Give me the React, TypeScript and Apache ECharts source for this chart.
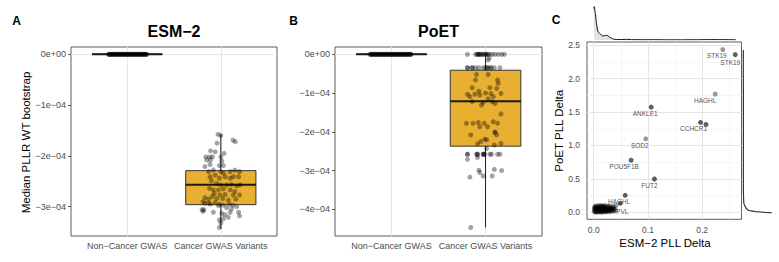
import React, { useEffect, useRef } from 'react';
import * as echarts from 'echarts';

// ---------- shared ----------
const categories = ['Non−Cancer GWAS', 'Cancer GWAS Variants'];
const catPositions = [1, 2];

// ---------- Panel A : ESM-2 ----------
const esmTickValues = [0, -1e-4, -2e-4, -3e-4];
const esmTickLabels = ['0e+00', '−1e−04', '−2e−04', '−3e−04'];
const esmMinorValues = [-0.5e-4, -1.5e-4, -2.5e-4, -3.5e-4];
// [min, q1, median, q3, max]
const esmBoxNonCancer = [0, 0, 0, 0, 0];
const esmBoxCancer = [-3.43e-4, -2.96e-4, -2.57e-4, -2.29e-4, -1.575e-4];
// jittered points: [offset from category centre, value]
const esmNonCancerPoints = [
  [-0.2, 0], [-0.19, 0], [-0.18, 0], [-0.17, 0], [-0.16, 0], [-0.15, 0], [-0.14, 0], [-0.13, 0], [-0.12, 0], [-0.11, 0],
  [-0.1, 0], [-0.09, 0], [-0.08, 0], [-0.07, 0], [-0.06, 0], [-0.05, 0], [-0.04, 0], [-0.03, 0], [-0.02, 0], [-0.01, 0], [0, 0],
  [0.01, 0], [0.02, 0], [0.03, 0], [0.04, 0], [0.05, 0], [0.06, 0], [0.07, 0], [0.08, 0], [0.09, 0],
  [0.1, 0], [0.11, 0], [0.12, 0], [0.13, 0], [0.14, 0], [0.15, 0], [0.16, 0], [0.17, 0], [0.18, 0], [0.19, 0], [0.2, 0], [0.21, 0],
  [-0.195, 0], [-0.175, 0], [-0.155, 0], [-0.135, 0], [-0.115, 0], [-0.095, 0], [-0.075, 0], [-0.055, 0], [-0.035, 0], [-0.015, 0],
  [0.005, 0], [0.025, 0], [0.045, 0], [0.065, 0], [0.085, 0], [0.105, 0], [0.125, 0], [0.145, 0], [0.165, 0], [0.185, 0], [0.205, 0],
];
const esmCancerPoints = [
  [-0.03, -1.575e-4], [0.0, -1.6e-4], [0.13, -1.69e-4], [0.155, -1.72e-4], [-0.04, -1.75e-4],
  [-0.06, -1.92e-4], [-0.11, -1.9e-4], [-0.16, -2.02e-4], [-0.12, -2.02e-4], [-0.09, -2.02e-4],
  [0.0, -2.02e-4], [0.035, -1.95e-4], [-0.15, -2.08e-4], [-0.11, -2.08e-4], [0.01, -2.1e-4],
  [-0.17, -2.21e-4], [-0.115, -2.17e-4], [-0.015, -2.19e-4], [0.027, -2.19e-4], [-0.13, -2.31e-4],
  [-0.08, -2.28e-4], [0.0, -2.31e-4], [0.027, -2.34e-4], [0.1, -2.31e-4], [0.15, -2.28e-4],
  [0.2, -2.31e-4], [-0.115, -2.41e-4], [-0.06, -2.38e-4], [-0.015, -2.44e-4], [0.045, -2.41e-4],
  [0.1, -2.44e-4], [0.134, -2.41e-4], [0.19, -2.41e-4], [-0.1, -2.49e-4], [-0.044, -2.54e-4],
  [0.0, -2.57e-4], [0.063, -2.57e-4], [0.115, -2.56e-4], [0.17, -2.59e-4], [0.205, -2.57e-4],
  [-0.12, -2.64e-4], [-0.08, -2.67e-4], [-0.026, -2.67e-4], [0.027, -2.65e-4], [0.1, -2.67e-4],
  [0.15, -2.7e-4], [-0.07, -2.74e-4], [-0.01, -2.77e-4], [0.045, -2.76e-4], [0.134, -2.77e-4],
  [0.2, -2.77e-4], [-0.17, -2.82e-4], [-0.13, -2.85e-4], [-0.09, -2.8e-4], [-0.044, -2.84e-4],
  [0.02, -2.84e-4], [0.08, -2.87e-4], [0.16, -2.85e-4], [-0.19, -2.9e-4], [-0.13, -2.93e-4],
  [-0.06, -2.92e-4], [-0.01, -2.95e-4], [0.027, -2.97e-4], [0.09, -2.95e-4], [0.127, -2.97e-4],
  [-0.17, -2.93e-4], [-0.11, -2.95e-4], [-0.026, -2.98e-4], [0.063, -3.02e-4], [0.115, -3.04e-4],
  [0.17, -3.0e-4], [-0.19, -3.09e-4], [-0.08, -3.11e-4], [0.01, -3.13e-4], [0.1, -3.11e-4],
  [0.045, -3.16e-4], [0.08, -3.21e-4], [0.19, -3.11e-4], [0.2, -3.18e-4], [-0.015, -3.26e-4],
  [0.027, -3.24e-4], [0.0, -3.32e-4], [-0.015, -3.41e-4], [-0.2, -3.06e-4], [-0.18, -3.06e-4],
];

// ---------- Panel B : PoET ----------
const poetTickValues = [0, -1e-4, -2e-4, -3e-4, -4e-4];
const poetTickLabels = ['0e+00', '−1e−04', '−2e−04', '−3e−04', '−4e−04'];
const poetMinorValues = [-0.5e-4, -1.5e-4, -2.5e-4, -3.5e-4, -4.5e-4];
const poetBoxNonCancer = [0, 0, 0, 0, 0];
const poetBoxCancer = [-4.47e-4, -2.37e-4, -1.21e-4, -0.41e-4, 0];
const poetNonCancerPoints = [
  [-0.23, 0], [-0.22, 0], [-0.21, 0], [-0.2, 0], [-0.19, 0], [-0.18, 0], [-0.17, 0], [-0.16, 0], [-0.15, 0], [-0.14, 0], [-0.13, 0], [-0.12, 0],
  [-0.11, 0], [-0.1, 0], [-0.09, 0], [-0.08, 0], [-0.07, 0], [-0.06, 0], [-0.05, 0], [-0.04, 0], [-0.03, 0], [-0.02, 0], [-0.01, 0], [0, 0], [0.01, 0],
  [0.02, 0], [0.03, 0], [0.04, 0], [0.05, 0], [0.06, 0], [0.07, 0], [0.08, 0], [0.09, 0], [0.1, 0], [0.11, 0], [0.12, 0], [0.13, 0],
  [0.14, 0], [0.15, 0], [0.16, 0], [0.17, 0], [0.18, 0], [0.19, 0], [0.2, 0], [0.21, 0],
  [-0.215, 0], [-0.185, 0], [-0.155, 0], [-0.125, 0], [-0.095, 0], [-0.065, 0], [-0.035, 0], [-0.005, 0],
  [0.025, 0], [0.055, 0], [0.085, 0], [0.115, 0], [0.145, 0], [0.175, 0], [0.205, 0],
];
const poetCancerPoints = [
  [-0.192, 0], [-0.107, 0], [-0.085, 0], [-0.071, 0], [-0.05, 0], [-0.025, 0], [0, 0], [0.021, 0],
  [0.043, 0], [0.071, 0], [0.1, 0], [0.135, 0], [0.171, 0], [0.2, 0],
  [-0.085, 0], [-0.071, 0], [-0.05, 0], [-0.025, 0], [0, 0], [0.021, 0],
  [0.028, -0.147e-4], [0.039, -0.09e-4],
  [-0.192, -0.345e-4], [-0.142, -0.345e-4], [-0.107, -0.345e-4], [-0.071, -0.345e-4], [-0.025, -0.345e-4],
  [0, -0.345e-4], [0.021, -0.345e-4], [0.057, -0.345e-4], [0.093, -0.345e-4], [0.153, -0.345e-4],
  [-0.192, -0.345e-4], [-0.142, -0.345e-4], [0.021, -0.345e-4], [0.057, -0.345e-4],
  [-0.096, -0.52e-4], [0.028, -0.52e-4], [-0.107, -0.66e-4], [0.128, -0.66e-4], [0.135, -0.75e-4],
  [-0.142, -0.86e-4], [0.046, -0.86e-4], [0.118, -0.88e-4], [-0.071, -0.95e-4], [-0.192, -1.03e-4],
  [-0.167, -1.09e-4], [-0.114, -1.03e-4], [-0.061, -1.05e-4], [0, -1.0e-4], [0.057, -1.01e-4],
  [0.082, -1.09e-4], [0.164, -1.01e-4], [-0.142, -1.22e-4], [-0.025, -1.24e-4], [0.028, -1.15e-4],
  [0.071, -1.22e-4], [0.1, -1.27e-4], [-0.043, -1.31e-4], [0.164, -1.54e-4], [-0.203, -1.78e-4],
  [-0.132, -1.78e-4], [-0.078, -1.76e-4], [-0.014, -1.78e-4], [0.082, -1.74e-4], [0.128, -1.78e-4],
  [-0.061, -1.87e-4], [0.021, -1.87e-4], [0.1, -2.0e-4], [-0.157, -2.08e-4], [0.118, -2.08e-4],
  [-0.007, -2.19e-4], [0.1, -2.02e-4], [-0.085, -2.31e-4], [-0.05, -2.25e-4], [0.011, -2.21e-4],
  [0.093, -2.34e-4], [0.164, -2.3e-4], [0.011, -2.43e-4],
  [-0.192, -2.58e-4], [-0.096, -2.58e-4], [-0.085, -2.58e-4], [-0.025, -2.58e-4], [-0.014, -2.58e-4],
  [0.046, -2.58e-4], [0.064, -2.58e-4], [0.128, -2.58e-4], [0.153, -2.58e-4],
  [-0.192, -2.58e-4], [-0.085, -2.58e-4], [-0.025, -2.58e-4], [-0.014, -2.58e-4],
  [-0.192, -2.71e-4], [-0.085, -2.66e-4], [-0.071, -2.99e-4], [0.093, -2.97e-4], [0.171, -3.0e-4],
  [-0.061, -3.05e-4], [-0.167, -3.17e-4], [-0.025, -3.14e-4], [0.071, -3.14e-4], [-0.157, -4.47e-4],
];

// ---------- Panel C : scatter with marginal densities ----------
const cXTicks = [0, 0.1, 0.2];
const cXTickLabels = ['0.0', '0.1', '0.2'];
const cXMinor = [0.05, 0.15, 0.25];
const cYTicks = [0, 0.5, 1.0, 1.5, 2.0, 2.5];
const cYTickLabels = ['0.0', '0.5', '1.0', '1.5', '2.0', '2.5'];
const cYMinor = [0.25, 0.75, 1.25, 1.75, 2.25];

const namedEsm = [0.238, 0.261, 0.224, 0.106, 0.197, 0.207, 0.096, 0.069, 0.112, 0.058, 0.049, 0.041];
const namedPoet = [2.436, 2.36, 1.77, 1.574, 1.345, 1.315, 1.1, 0.78, 0.498, 0.254, 0.134, 0.1];
const namedGene = ['STK19', 'STK19', 'HAGHL', 'ANKLE1', 'CCHCR1', '', 'SOD2', 'POU5F1B', 'FUT2', 'HAGHL', 'PVL', ''];
const namedCount = [1, 2, 1, 2, 2, 2, 1, 2, 2, 2, 2, 1];
// label placement relative to the point centre (layout only)
const namedLabelOffset = [[-6, 5.5], [-5, 7.5], [-10, 6], [-6, 6], [-7, 6.5], [0, 0], [-6, 7], [-7, 6], [-5, 6.5], [-6, 6.5], [2, 8.5], [0, 0]];

const clusterPoints = [
  [0.002, 0.005], [0.003, 0.012], [0.004, 0.02], [0.005, 0.0], [0.006, 0.03], [0.007, 0.008],
  [0.008, 0.045], [0.009, 0.015], [0.01, 0.06], [0.011, 0.025], [0.012, 0.003], [0.013, 0.04],
  [0.014, 0.07], [0.015, 0.018], [0.016, 0.05], [0.017, 0.01], [0.018, 0.085], [0.019, 0.035],
  [0.02, 0.06], [0.021, 0.02], [0.022, 0.075], [0.023, 0.005], [0.024, 0.045], [0.025, 0.09],
  [0.026, 0.03], [0.027, 0.065], [0.028, 0.015], [0.029, 0.05], [0.03, 0.08], [0.031, 0.04],
  [0.032, 0.02], [0.033, 0.06], [0.034, 0.03], [0.035, 0.07], [0.036, 0.045], [0.037, 0.015],
  [0.002, 0.04], [0.003, 0.07], [0.004, 0.09], [0.005, 0.055], [0.006, 0.08], [0.007, 0.065],
  [0.008, 0.1], [0.009, 0.075], [0.01, 0.035], [0.012, 0.09], [0.013, 0.1], [0.015, 0.085],
  [0.017, 0.095], [0.019, 0.07], [0.021, 0.1], [0.023, 0.055], [0.001, 0.025], [0.001, 0.06],
  [0.002, 0.085], [0.011, 0.008], [0.014, 0.03], [0.016, 0.002], [0.018, 0.025], [0.02, 0.04],
  [0.022, 0.012], [0.024, 0.02], [0.026, 0.055], [0.028, 0.04], [0.03, 0.01], [0.033, 0.045],
  [0.038, 0.05], [0.04, 0.03], [0.036, 0.085], [0.029, 0.095],
];

// marginal densities (relative height, peak = 100)
const esmDensity = [
  [0, 95], [0.001, 100], [0.003, 80], [0.005, 50], [0.007, 30], [0.009, 22], [0.011, 20],
  [0.013, 17], [0.015, 13], [0.017, 12], [0.02, 13], [0.023, 14], [0.026, 13], [0.029, 9],
  [0.033, 5], [0.037, 2.5], [0.042, 1.5], [0.05, 1.5], [0.06, 2], [0.07, 1], [0.09, 0.8],
  [0.11, 1], [0.13, 0.6], [0.16, 0.6], [0.19, 0.8], [0.21, 1.2], [0.23, 1.2], [0.25, 0.9], [0.262, 0.6],
];
const poetDensity = [
  [-0.006, 100], [0.0, 75], [0.01, 45], [0.02, 28], [0.035, 17], [0.06, 11], [0.085, 8],
  [0.11, 5], [0.135, 3], [0.2, 2], [0.3, 1.5], [0.5, 1.2], [0.8, 1.2], [1.1, 1.5], [1.35, 1.5],
  [1.6, 1.3], [1.8, 1.4], [2.1, 1], [2.36, 1.2], [2.43, 1],
];

// ---------- styling ----------
const FONT = "'Liberation Sans', Arial, Helvetica, sans-serif";
const BOX_FILL = '#E8AF30';
const GRID_MAJOR = '#e6e6e6';
const GRID_MINOR = '#f0f0f0';
const POINT_SIZE = 5;

function tickFormatter(ticks: number[], labels: string[]) {
  return (v: number) => {
    const i = ticks.findIndex((t) => Math.abs(t - v) < 1e-12);
    return i >= 0 ? labels[i] : '';
  };
}

function valueAxis(gridIndex: number, min: number, max: number, ticks: number[], labels: string[], margin: number, fontSize: number) {
  return {
    type: 'value', gridIndex, min, max,
    axisLine: { show: false },
    splitLine: { show: false },
    axisTick: { show: true, customValues: ticks, length: 3, lineStyle: { color: '#333', width: 0.8 } },
    axisLabel: { customValues: ticks, margin, color: '#4d4d4d', fontSize, fontFamily: FONT, formatter: tickFormatter(ticks, labels) },
  };
}

function gridLines(axisIdx: number, xMajor: number[], xMinor: number[], yMajor: number[], yMinor: number[]) {
  const mk = (key: string, v: number, major: boolean) => ({
    [key]: v,
    lineStyle: { color: major ? GRID_MAJOR : GRID_MINOR, width: major ? 1 : 0.7, type: 'solid' },
  });
  return {
    type: 'line', xAxisIndex: axisIdx, yAxisIndex: axisIdx, data: [], silent: true, z: 1,
    markLine: {
      z: 1, silent: true, symbol: ['none', 'none'], label: { show: false }, animation: false,
      emphasis: { disabled: true },
      data: [
        ...yMinor.map((v) => mk('yAxis', v, false)),
        ...xMinor.map((v) => mk('xAxis', v, false)),
        ...yMajor.map((v) => mk('yAxis', v, true)),
        ...xMajor.map((v) => mk('xAxis', v, true)),
      ],
    },
  };
}

function boxSeries(axisIdx: number, boxes: number[][]) {
  return {
    type: 'custom', xAxisIndex: axisIdx, yAxisIndex: axisIdx, z: 2, silent: true,
    data: boxes.map((b, i) => [catPositions[i], ...b]),
    renderItem: (_p: any, api: any) => {
      const x = api.value(0);
      const lo = api.value(1), q1 = api.value(2), med = api.value(3), q3 = api.value(4), hi = api.value(5);
      const tl = api.coord([x - 0.375, q3]);
      const br = api.coord([x + 0.375, q1]);
      const pHi = api.coord([x, hi]);
      const pQ3 = api.coord([x, q3]);
      const pQ1 = api.coord([x, q1]);
      const pLo = api.coord([x, lo]);
      const pMed = api.coord([x, med]);
      const stroke = '#1a1a1a';
      return {
        type: 'group',
        children: [
          { type: 'line', shape: { x1: pHi[0], y1: pHi[1], x2: pQ3[0], y2: pQ3[1] }, style: { stroke, lineWidth: 1 } },
          { type: 'line', shape: { x1: pQ1[0], y1: pQ1[1], x2: pLo[0], y2: pLo[1] }, style: { stroke, lineWidth: 1 } },
          { type: 'rect', shape: { x: tl[0], y: tl[1], width: br[0] - tl[0], height: br[1] - tl[1] }, style: { fill: BOX_FILL, stroke: '#333', lineWidth: 1 } },
          { type: 'line', shape: { x1: tl[0], y1: pMed[1], x2: br[0], y2: pMed[1] }, style: { stroke, lineWidth: 2 } },
        ],
      };
    },
  };
}

function jitterSeries(axisIdx: number, catIdx: number, pts: number[][]) {
  return {
    type: 'scatter', xAxisIndex: axisIdx, yAxisIndex: axisIdx, z: 3, silent: true, clip: false,
    symbolSize: POINT_SIZE,
    itemStyle: { color: 'rgba(0,0,0,0.45)' },
    data: pts.map(([o, v]) => [catPositions[catIdx] + o, v]),
  };
}

function catAxis(gridIndex: number) {
  return {
    type: 'value', gridIndex, min: 0.4, max: 2.6,
    axisLine: { show: false }, splitLine: { show: false },
    axisTick: { show: true, customValues: catPositions, length: 3, lineStyle: { color: '#333', width: 0.8 } },
    axisLabel: {
      customValues: catPositions, margin: 5, color: '#4d4d4d', fontSize: 9, fontFamily: FONT,
      formatter: (v: number) => categories[Math.round(v) - 1] ?? '',
    },
  };
}

const C_XMIN = -0.0124, C_XMAX = 0.2725, C_YMIN = -0.105, C_YMAX = 2.549;

function buildOption() {
  const gridBase = { show: true, borderColor: '#333', borderWidth: 0.8, backgroundColor: '#fff', containLabel: false };
  const namedData = namedEsm.map((x, i) => ({
    value: [x, namedPoet[i]],
    itemStyle: { color: namedCount[i] > 1 ? 'rgba(0,0,0,0.78)' : 'rgba(0,0,0,0.5)' },
    label: {
      show: namedGene[i] !== '', formatter: namedGene[i],
      position: [POINT_SIZE / 2 + namedLabelOffset[i][0], POINT_SIZE / 2 + namedLabelOffset[i][1]],
      align: 'center', verticalAlign: 'middle',
      color: '#1a1a1a', fontSize: 6.5, fontFamily: FONT,
    },
  }));
  return {
    animation: false,
    backgroundColor: '#fff',
    grid: [
      { ...gridBase, left: 71, top: 47, width: 206, height: 189 },
      { ...gridBase, left: 335, top: 47, width: 207, height: 189 },
      { ...gridBase, left: 587, top: 42, width: 154.5, height: 177.3 },
      { show: false, left: 587, top: 5, width: 154.5, height: 35 },
      { show: false, left: 743, top: 42, width: 32, height: 177.3 },
    ],
    xAxis: [
      catAxis(0),
      catAxis(1),
      { ...valueAxis(2, C_XMIN, C_XMAX, cXTicks, cXTickLabels, 6, 8.5) },
      { type: 'value', gridIndex: 3, min: C_XMIN, max: C_XMAX, show: false },
      { type: 'value', gridIndex: 4, min: 0, max: 111.5, show: false },
    ],
    yAxis: [
      valueAxis(0, -3.577e-4, 0.144e-4, esmTickValues, esmTickLabels, 5, 9),
      valueAxis(1, -4.69e-4, 0.19e-4, poetTickValues, poetTickLabels, 5, 9),
      valueAxis(2, C_YMIN, C_YMAX, cYTicks, cYTickLabels, 7, 8.5),
      { type: 'value', gridIndex: 3, min: 0, max: 105, show: false },
      { type: 'value', gridIndex: 4, min: C_YMIN, max: C_YMAX, show: false },
    ],
    series: [
      gridLines(0, catPositions, [], esmTickValues, esmMinorValues),
      gridLines(1, catPositions, [], poetTickValues, poetMinorValues),
      gridLines(2, cXTicks, cXMinor, cYTicks, cYMinor),
      boxSeries(0, [esmBoxNonCancer, esmBoxCancer]),
      boxSeries(1, [poetBoxNonCancer, poetBoxCancer]),
      jitterSeries(0, 0, esmNonCancerPoints),
      jitterSeries(0, 1, esmCancerPoints),
      jitterSeries(1, 0, poetNonCancerPoints),
      jitterSeries(1, 1, poetCancerPoints),
      {
        type: 'scatter', xAxisIndex: 2, yAxisIndex: 2, z: 3, silent: true, clip: false, symbolSize: POINT_SIZE,
        itemStyle: { color: 'rgba(0,0,0,0.5)' },
        data: clusterPoints,
      },
      {
        type: 'scatter', xAxisIndex: 2, yAxisIndex: 2, z: 4, silent: true, clip: false, symbolSize: POINT_SIZE,
        data: namedData,
        labelLayout: { hideOverlap: false },
      },
      {
        type: 'line', xAxisIndex: 3, yAxisIndex: 3, silent: true, showSymbol: false, symbol: 'none',
        data: esmDensity,
        lineStyle: { color: '#1a1a1a', width: 1 },
        areaStyle: { color: '#e3e3e3', opacity: 1 },
      },
      {
        type: 'line', xAxisIndex: 4, yAxisIndex: 4, silent: true, showSymbol: false, symbol: 'none',
        data: poetDensity.map(([y, d]) => [d, y]),
        lineStyle: { color: '#333', width: 1.2 },
      },
    ],
    graphic: [
      { type: 'text', x: 16.5, y: 20.5, style: { text: 'A', font: `bold 12px ${FONT}`, fill: '#000', textAlign: 'center', textVerticalAlign: 'middle' } },
      { type: 'text', x: 293.5, y: 20.5, style: { text: 'B', font: `bold 12px ${FONT}`, fill: '#000', textAlign: 'center', textVerticalAlign: 'middle' } },
      { type: 'text', x: 556, y: 20, style: { text: 'C', font: `bold 12px ${FONT}`, fill: '#000', textAlign: 'center', textVerticalAlign: 'middle' } },
      { type: 'text', x: 174, y: 31, style: { text: 'ESM−2', font: `bold 16px ${FONT}`, fill: '#000', textAlign: 'center', textVerticalAlign: 'middle' } },
      { type: 'text', x: 438.5, y: 31, style: { text: 'PoET', font: `bold 16px ${FONT}`, fill: '#000', textAlign: 'center', textVerticalAlign: 'middle' } },
      { type: 'text', x: 26, y: 142.5, rotation: Math.PI / 2, style: { text: 'Median PLLR WT bootstrap', font: `11.5px ${FONT}`, fill: '#000', textAlign: 'center', textVerticalAlign: 'middle' } },
      { type: 'text', x: 665, y: 243.3, style: { text: 'ESM−2 PLL Delta', font: `11.5px ${FONT}`, fill: '#000', textAlign: 'center', textVerticalAlign: 'middle' } },
      { type: 'text', x: 559.3, y: 130.8, rotation: Math.PI / 2, style: { text: 'PoET PLL Delta', font: `11.5px ${FONT}`, fill: '#000', textAlign: 'center', textVerticalAlign: 'middle' } },
    ],
  };
}

export default function App() {
  const ref = useRef<HTMLDivElement>(null);
  useEffect(() => {
    if (!ref.current) return;
    const chart = echarts.init(ref.current, undefined, { renderer: 'svg' });
    chart.setOption(buildOption() as any);
    return () => chart.dispose();
  }, []);
  return <div ref={ref} style={{ position: 'absolute', left: 0, top: 0, width: 779, height: 262 }} />;
}
